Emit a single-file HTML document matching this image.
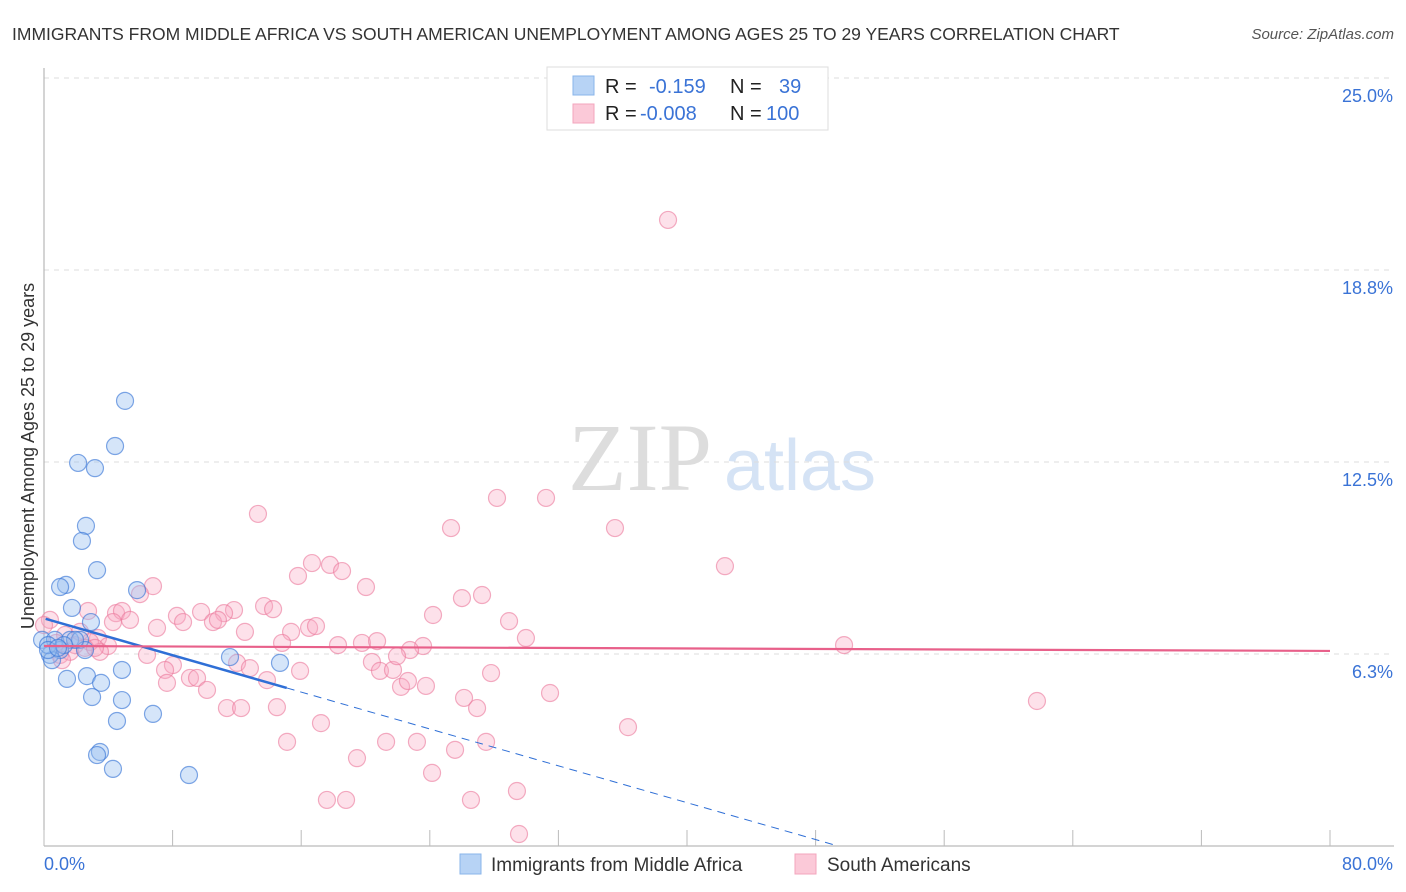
<!DOCTYPE html>
<html><head><meta charset="utf-8"><style>
body{margin:0;background:#fff;font-family:"Liberation Sans",sans-serif;}
#wrap{position:relative;width:1406px;height:892px;overflow:hidden}
</style></head><body>
<div id="wrap">
<svg id="svg" width="1406" height="892" xmlns="http://www.w3.org/2000/svg">
<text x="12" y="40" font-size="17.5" fill="#333">IMMIGRANTS FROM MIDDLE AFRICA VS SOUTH AMERICAN UNEMPLOYMENT AMONG AGES 25 TO 29 YEARS CORRELATION CHART</text>
<text x="1394" y="39" font-size="15" fill="#555" font-style="italic" text-anchor="end">Source: ZipAtlas.com</text>
<text x="640" y="490" font-size="96" fill="#ddd" font-family="Liberation Serif,serif" text-anchor="middle">ZIP</text>
<text x="800" y="490" font-size="72" fill="#d5e3f5" text-anchor="middle">atlas</text>
<g id="grid"></g><g id="pts"></g><g id="lines"></g>
<text transform="translate(34,456) rotate(-90)" font-size="18" fill="#333" text-anchor="middle">Unemployment Among Ages 25 to 29 years</text>
<g>
<rect x="547" y="67" width="281" height="63" fill="#fff" stroke="#ddd"/>
<rect x="573" y="76" width="21" height="19" fill="#b7d3f5" stroke="#8ab4ea"/>
<rect x="573" y="104" width="21" height="19" fill="#fbc9d8" stroke="#f3a5bd"/>
<text font-size="20" fill="#222" x="605" y="93">R =</text>
<text font-size="20" fill="#3a73d6" x="649" y="93">-0.159</text>
<text font-size="20" fill="#222" x="730" y="93">N =</text>
<text font-size="20" fill="#3a73d6" x="779" y="93">39</text>
<text font-size="20" fill="#222" x="605" y="120">R =</text>
<text font-size="20" fill="#3a73d6" x="640" y="120">-0.008</text>
<text font-size="20" fill="#222" x="730" y="120">N =</text>
<text font-size="20" fill="#3a73d6" x="766" y="120">100</text>
</g>
<g>
<rect x="460" y="854" width="21" height="20" fill="#b7d3f5" stroke="#8ab4ea"/>
<text x="491" y="871" font-size="19" fill="#333">Immigrants from Middle Africa</text>
<rect x="795" y="854" width="21" height="20" fill="#fbc9d8" stroke="#f3a5bd"/>
<text x="827" y="871" font-size="19" fill="#333">South Americans</text>
</g>
</svg>
</div>
<script>
const xTicks=[0,8,16,24,32,40,48,56,64,72,80];
const yTicks=[6.25,12.5,18.75,25];
const yTickLabels=["6.3%","12.5%","18.8%","25.0%"];
const bluePx=[[125,401],[115,446],[78,463],[95,468],[86,526],[82,541],[97,570],[66,585],[60,587],[72,608],[137,590],[91,622],[42,640],[55,640],[70,640],[80,640],[60,650],[50,655],[85,650],[52,660],[230,657],[280,663],[67,679],[87,676],[101,683],[122,670],[92,697],[122,700],[117,721],[153,714],[100,752],[97,755],[113,769],[189,775],[75,640],[48,645],[64,645],[48,650],[58,648]];
const pinkPx=[[668,220],[258,514],[497,498],[546,498],[451,528],[615,528],[725,566],[298,576],[312,563],[330,565],[342,571],[366,587],[153,586],[140,594],[462,598],[482,595],[433,615],[509,621],[526,638],[844,645],[1037,701],[264,606],[273,609],[234,610],[224,613],[201,612],[177,616],[183,622],[213,622],[218,620],[116,613],[122,611],[88,611],[113,622],[130,620],[157,628],[245,632],[291,632],[309,628],[316,626],[98,638],[108,646],[100,652],[90,642],[50,620],[65,635],[75,645],[60,655],[70,652],[147,655],[173,665],[165,670],[190,678],[197,678],[167,683],[207,690],[237,663],[250,668],[267,680],[300,671],[282,643],[338,645],[362,643],[377,641],[372,662],[380,671],[393,670],[401,687],[408,681],[423,646],[410,650],[397,656],[426,686],[464,698],[477,708],[491,673],[550,693],[628,727],[227,708],[241,708],[277,707],[321,723],[287,742],[357,758],[386,742],[417,742],[455,750],[486,742],[432,773],[327,800],[346,800],[471,800],[517,791],[519,834],[56,643],[85,648],[44,625],[62,660],[80,632],[95,648]];
// data values (x %, y %) derived from the chart
const blueX=bluePx.map(p=>+((p[0]-44)/16.075).toFixed(2));
const blueY=bluePx.map(p=>+((846-p[1])/30.72).toFixed(2));
const pinkX=pinkPx.map(p=>+((p[0]-44)/16.075).toFixed(2));
const pinkY=pinkPx.map(p=>+((846-p[1])/30.72).toFixed(2));
const blueTrend=[7.41,-0.150]; const blueSolidEnd=15.1; const blueDashEnd=49.4;
const pinkTrend=[6.51,-0.002];
const X=v=>44+v*16.075, Y=v=>846-v*30.72;
const NS="http://www.w3.org/2000/svg";
function mk(t,a,p){const e=document.createElementNS(NS,t);for(const k in a)e.setAttribute(k,a[k]);p.appendChild(e);return e;}
const grid=document.getElementById('grid');
yTicks.forEach((t,i)=>{
 const l=mk('line',{x1:44,x2:1394,y1:Y(t),y2:Y(t),stroke:'#ddd','stroke-dasharray':'5,5'},grid);
 
 
 const tx=mk('text',{x:1393,y:Y(t)+24,'font-size':18,fill:'#3a73d6','text-anchor':'end'},grid);
 tx.textContent=yTickLabels[i];
 
 
});
mk('line',{x1:44,x2:1394,y1:78,y2:78,stroke:'#ddd','stroke-dasharray':'5,5'},grid);
const ax=mk('line',{x1:44,x2:1394,y1:846,y2:846,stroke:'#aaa'},grid);


const ay=mk('line',{x1:44,x2:44,y1:68,y2:846,stroke:'#aaa'},grid);


xTicks.forEach(t=>{const l=mk('line',{x1:X(t),x2:X(t),y1:830,y2:846,stroke:'#bbb'},grid);
 
 });
const t0=mk('text',{x:44,y:870,'font-size':18,fill:'#3a73d6'},grid);t0.textContent='0.0%';


const t1=mk('text',{x:1393,y:870,'font-size':18,fill:'#3a73d6','text-anchor':'end'},grid);t1.textContent='80.0%';


const pts=document.getElementById('pts');
pinkX.forEach((x,i)=>{const c=mk('circle',{cx:X(x),cy:Y(pinkY[i]),r:8.5,fill:'rgba(248,170,195,0.35)',stroke:'rgba(235,120,155,0.6)','stroke-width':1.2},pts);
 
 });
blueX.forEach((x,i)=>{const c=mk('circle',{cx:X(x),cy:Y(blueY[i]),r:8.5,fill:'rgba(150,190,240,0.4)',stroke:'rgba(60,120,215,0.65)','stroke-width':1.2},pts);
 
 });
const L=document.getElementById('lines');
const bf=v=>blueTrend[0]+blueTrend[1]*v, pf=v=>pinkTrend[0]+pinkTrend[1]*v;
const b1=mk('line',{x1:X(0.1),y1:Y(bf(0.1)),x2:X(blueSolidEnd),y2:Y(bf(blueSolidEnd)),stroke:'#2f6fd6','stroke-width':2.5},L);


const b2=mk('line',{x1:X(blueSolidEnd),y1:Y(bf(blueSolidEnd)),x2:X(blueDashEnd),y2:Y(bf(blueDashEnd)),stroke:'#2f6fd6','stroke-width':1,'stroke-dasharray':'8,6'},L);


const p1=mk('line',{x1:X(0),y1:Y(pf(0)),x2:X(80),y2:Y(pf(80)),stroke:'#e8608a','stroke-width':2.2},L);


</script>
</body></html>
